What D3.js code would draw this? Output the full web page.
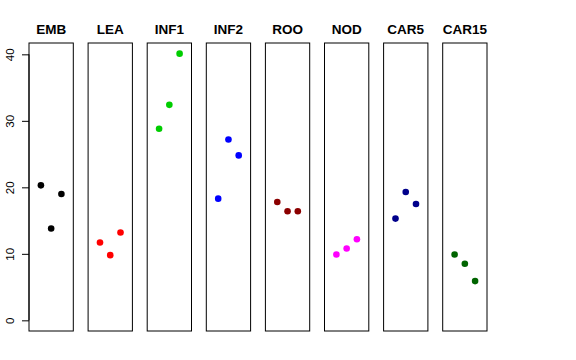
<!DOCTYPE html>
<html><head><meta charset="utf-8">
<script src="https://cdn.jsdelivr.net/npm/d3@7"></script>
<style>body{margin:0;background:#fff}</style>
</head><body>
<script>
const categories = ["EMB","LEA","INF1","INF2","ROO","NOD","CAR5","CAR15"];
const colors = ["#000000","#FF0000","#00CD00","#0000FF","#8B0000","#FF00FF","#00008B","#006400"];
const rep1 = [20.3, 11.7, 28.8, 18.3, 17.8, 9.9, 15.3, 9.9];
const rep2 = [13.8, 9.8, 32.4, 27.2, 16.4, 10.8, 19.3, 8.5];
const rep3 = [19.0, 13.2, 40.1, 24.8, 16.4, 12.2, 17.5, 5.9];
const yTicks = [0, 10, 20, 30, 40];

const W = 576, H = 360;
const svg = d3.select("body").append("svg").attr("width", W).attr("height", H);
const plotTop = 43, plotBottom = 331;
const y = d3.scaleLinear().domain([-1.604, 41.704]).range([plotBottom, plotTop]);
const step = 59.1, bw = 44.3, left0 = 29;
categories.forEach((c, i) => {
  const x0 = left0 + i * step;
  const x = d3.scaleLinear().domain([-0.16, 4.16]).range([x0, x0 + bw]);
  const g = svg.append("g");
  g.append("rect").attr("x", x0).attr("y", plotTop).attr("width", bw).attr("height", plotBottom - plotTop)
    .attr("fill", "none").attr("stroke", "#000").attr("stroke-width", 1);
  g.append("text").attr("x", x0 + bw / 2).attr("y", 34).attr("text-anchor", "middle")
    .attr("font-family", "Liberation Sans, Arial, sans-serif").attr("font-weight", "bold")
    .attr("font-size", 13.5).attr("fill", "#000").text(c);
  const vals = [rep1[i], rep2[i], rep3[i]];
  g.selectAll("circle").data(vals).join("circle")
    .attr("cx", (d, j) => x(j + 1)).attr("cy", d => y(d)).attr("r", 3.3)
    .attr("fill", colors[i]);
});
const ax = svg.append("g").attr("transform", `translate(${left0},0)`)
  .call(d3.axisLeft(y).tickValues(yTicks).tickSize(7).tickPadding(3));
ax.select(".domain").attr("d", `M0,${y(0)}V${y(40)}`);
ax.selectAll(".tick").each(function(d){
  const t = d3.select(this).select("text");
  t.attr("font-family", "Liberation Sans, Arial, sans-serif").attr("font-size", 11.5)
   .attr("fill", "#000").attr("text-anchor", "middle").attr("dy", null)
   .attr("x", 0).attr("y", 0)
   .attr("transform", "translate(-19.5,0) rotate(-90)")
   .attr("dominant-baseline", "central");
});
</script>
</body></html>
